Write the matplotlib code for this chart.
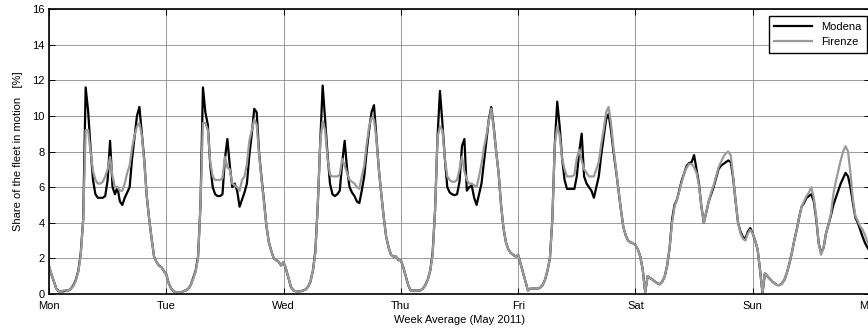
import numpy as np
import matplotlib
matplotlib.use("Agg")
import matplotlib.pyplot as plt

# share of the fleet in motion [%], one value every 30 minutes, Mon 00:00 -> Sun 23:30
modena_mon = [1.55, 1.1, 0.7, 0.3, 0.15, 0.15, 0.15, 0.2, 0.2, 0.3, 0.5, 0.8, 1.3, 2.3, 4.2, 11.6, 10.3, 8.2, 6.4, 5.6,
              5.4, 5.4, 5.4, 5.5, 6.4, 8.6, 6.0, 5.6, 6.0, 5.2, 5.0, 5.4, 5.7, 6.0, 7.6, 8.8, 10.0, 10.5, 9.0, 7.5,
              5.5, 4.2, 3.1, 2.1, 1.8, 1.6, 1.5, 1.3]
firenze_mon = [1.6, 1.1, 0.7, 0.3, 0.15, 0.15, 0.2, 0.2, 0.2, 0.3, 0.45, 0.75, 1.25, 2.2, 4.2, 9.2, 9.2, 8.0, 6.9, 6.4,
               6.2, 6.2, 6.3, 6.6, 7.0, 7.7, 6.6, 6.0, 6.0, 5.8, 5.8, 6.2, 6.8, 7.2, 8.2, 8.9, 9.4, 9.6, 8.9, 7.4,
               5.5, 4.2, 3.1, 2.1, 1.8, 1.6, 1.5, 1.3]
modena_tue = [1.1, 0.6, 0.3, 0.15, 0.1, 0.1, 0.1, 0.15, 0.2, 0.3, 0.5, 0.9, 1.3, 2.1, 5.0, 11.6, 10.2, 9.5, 7.2, 6.0,
              5.6, 5.5, 5.5, 5.6, 7.6, 8.7, 7.2, 6.0, 6.2, 5.8, 4.9, 5.3, 5.7, 6.2, 7.8, 9.0, 10.4, 10.2, 7.9, 6.5,
              5.2, 3.8, 2.9, 2.4, 2.0, 1.9, 1.8, 1.6]
firenze_tue = [1.1, 0.6, 0.3, 0.15, 0.1, 0.1, 0.1, 0.15, 0.2, 0.3, 0.5, 0.85, 1.25, 2.0, 5.0, 9.6, 9.6, 9.2, 7.4, 6.6,
               6.4, 6.4, 6.4, 6.5, 7.7, 7.1, 7.0, 6.2, 6.1, 6.0, 5.8, 6.4, 6.6, 7.3, 8.6, 9.2, 9.8, 9.5, 7.8, 6.4,
               5.1, 3.8, 2.9, 2.4, 2.0, 1.9, 1.8, 1.6]
modena_wed = [1.8, 1.4, 0.9, 0.4, 0.2, 0.15, 0.15, 0.15, 0.2, 0.25, 0.4, 0.7, 1.3, 2.4, 5.0, 8.5, 11.7, 9.8, 7.8, 6.2,
              5.6, 5.5, 5.6, 5.8, 7.4, 8.6, 7.0, 6.0, 5.7, 5.5, 5.2, 5.1, 5.8, 6.6, 8.0, 9.2, 10.2, 10.6, 8.8, 7.0,
              5.6, 4.3, 3.2, 2.6, 2.2, 2.1, 2.1, 1.9]
firenze_wed = [1.8, 1.4, 0.9, 0.4, 0.2, 0.15, 0.15, 0.15, 0.2, 0.25, 0.4, 0.7, 1.3, 2.3, 5.0, 8.5, 9.7, 9.2, 7.6, 6.7,
               6.6, 6.6, 6.6, 6.7, 7.6, 7.2, 6.8, 6.4, 6.3, 6.2, 6.0, 5.9, 6.6, 7.2, 8.4, 9.4, 9.9, 9.8, 8.7, 7.0,
               5.6, 4.3, 3.2, 2.6, 2.2, 2.1, 2.1, 1.9]
modena_thu = [1.9, 1.5, 1.0, 0.5, 0.2, 0.2, 0.2, 0.2, 0.2, 0.3, 0.5, 0.8, 1.3, 2.3, 4.7, 8.8, 11.4, 9.6, 7.6, 6.0,
              5.7, 5.6, 5.55, 5.6, 6.3, 8.3, 8.7, 5.8, 6.0, 6.1, 5.4, 5.0, 5.6, 6.2, 7.4, 8.6, 9.8, 10.5, 9.4, 8.0,
              6.8, 5.0, 3.7, 2.9, 2.5, 2.3, 2.2, 2.1]
firenze_thu = [1.9, 1.5, 1.0, 0.5, 0.2, 0.2, 0.2, 0.2, 0.2, 0.3, 0.5, 0.8, 1.3, 2.2, 4.7, 8.8, 9.4, 9.2, 7.6, 6.6,
               6.4, 6.3, 6.3, 6.4, 7.0, 7.7, 6.9, 6.4, 6.2, 6.2, 6.1, 6.0, 6.6, 7.3, 8.2, 8.9, 9.7, 10.4, 9.3, 8.0,
               6.8, 5.0, 3.7, 2.9, 2.5, 2.3, 2.2, 2.1]
modena_fri = [2.2, 1.7, 1.2, 0.7, 0.2, 0.3, 0.3, 0.3, 0.3, 0.35, 0.5, 0.8, 1.3, 2.0, 4.2, 8.4, 10.8, 9.4, 7.6, 6.4,
              5.9, 5.9, 5.9, 5.9, 6.6, 8.0, 9.0, 6.6, 6.2, 6.0, 5.8, 5.4, 6.0, 6.6, 7.8, 8.8, 9.8, 10.1, 9.2, 8.0,
              7.0, 5.9, 4.8, 3.8, 3.3, 3.0, 2.9, 2.85]
firenze_fri = [2.2, 1.7, 1.2, 0.7, 0.2, 0.3, 0.3, 0.3, 0.3, 0.35, 0.5, 0.8, 1.3, 2.0, 4.2, 8.4, 9.4, 8.9, 7.6, 7.0,
               6.6, 6.6, 6.6, 6.7, 7.6, 8.1, 7.5, 7.0, 6.8, 6.6, 6.6, 6.6, 7.0, 7.4, 8.4, 9.2, 10.2, 10.5, 9.6, 8.2,
               7.1, 5.9, 4.8, 3.8, 3.3, 3.0, 2.9, 2.85]
modena_sat = [2.75, 2.5, 2.1, 1.35, 0.1, 1.0, 0.9, 0.8, 0.7, 0.6, 0.55, 0.7, 1.0, 1.6, 2.6, 4.2, 5.0, 5.3, 5.85, 6.4,
              6.8, 7.2, 7.35, 7.4, 7.8, 7.0, 6.2, 4.9, 4.0, 4.6, 5.2, 5.6, 6.0, 6.5, 7.0, 7.2, 7.3, 7.4, 7.5, 7.4,
              6.5, 5.2, 4.0, 3.5, 3.2, 3.1, 3.5, 3.7]
firenze_sat = [2.75, 2.5, 2.1, 1.35, 0.1, 1.0, 0.9, 0.8, 0.7, 0.6, 0.55, 0.7, 1.0, 1.6, 2.6, 4.0, 4.9, 5.3, 5.8, 6.3,
               6.8, 7.1, 7.3, 7.3, 7.1, 6.8, 6.1, 4.9, 4.0, 4.6, 5.2, 5.7, 6.1, 6.6, 7.1, 7.4, 7.7, 7.9, 8.0, 7.8,
               6.6, 5.2, 4.0, 3.4, 3.1, 3.0, 3.4, 3.6]
modena_sun = [3.4, 3.0, 2.5, 1.35, 0.05, 1.15, 1.0, 0.85, 0.7, 0.6, 0.5, 0.5, 0.6, 0.8, 1.2, 1.7, 2.3, 3.0, 3.6, 4.3,
              4.9, 5.1, 5.4, 5.5, 5.6, 5.2, 4.2, 2.85, 2.3, 2.6, 3.4, 3.9, 4.4, 5.0, 5.4, 5.8, 6.2, 6.5, 6.8, 6.6,
              6.0, 5.1, 4.3, 4.0, 3.6, 3.2, 2.85, 2.6]
firenze_sun = [3.4, 3.0, 2.5, 1.35, 0.05, 1.15, 1.0, 0.85, 0.7, 0.6, 0.5, 0.5, 0.6, 0.8, 1.2, 1.7, 2.3, 3.0, 3.6, 4.3,
               4.9, 5.2, 5.5, 5.7, 6.0, 5.4, 4.3, 2.85, 2.2, 2.6, 3.4, 3.9, 4.5, 5.6, 6.3, 6.9, 7.5, 8.0, 8.3, 8.0,
               6.8, 5.3, 4.4, 4.1, 3.8, 3.6, 3.3, 2.9]
# value at the following Monday 00:00
modena_end = [2.4]
firenze_end = [2.6]

day_labels = ['Mon', 'Tue', 'Wed', 'Thu', 'Fri', 'Sat', 'Sun', 'Mon']

modena = np.array(modena_mon + modena_tue + modena_wed + modena_thu + modena_fri
                  + modena_sat + modena_sun + modena_end)
firenze = np.array(firenze_mon + firenze_tue + firenze_wed + firenze_thu + firenze_fri
                   + firenze_sat + firenze_sun + firenze_end)
hours = np.arange(len(modena)) * 0.5

plt.rcParams['font.family'] = ['Liberation Sans', 'DejaVu Sans']

fig = plt.figure(figsize=(8.68, 3.31), dpi=100)
ax = fig.add_axes([49 / 868, 37 / 331, 821 / 868, 285 / 331])

ax.plot(hours, modena, color='black', lw=1.6, label='Modena')
ax.plot(hours, firenze, color='#9a9a9a', lw=1.6, label='Firenze')

ax.set_xlim(0, 168)
ax.set_ylim(0, 16)
ax.set_xticks(np.arange(0, 169, 24))
ax.set_xticklabels(day_labels)
ax.set_yticks(np.arange(0, 17, 2))
ax.grid(True, color='#8c8c8c', lw=0.6)
ax.set_axisbelow(True)
ax.tick_params(direction='in', top=True, right=True, length=4, width=0.7, labelsize=8)
ax.tick_params(axis='x', pad=5)
ax.tick_params(axis='y', pad=3)
for s in ax.spines.values():
    s.set_linewidth(1.2)

ax.set_xlabel('Week Average (May 2011)', fontsize=8, labelpad=3)
ax.set_ylabel('Share of the fleet in motion   [%]', fontsize=8, labelpad=7)

leg = ax.legend(loc='upper right', bbox_to_anchor=(867 / 868, 1 - 16 / 331), bbox_transform=fig.transFigure,
                fontsize=8, handlelength=3.4, fancybox=False, edgecolor='black', framealpha=1,
                borderaxespad=0, borderpad=0.5, labelspacing=0.5)
leg.get_frame().set_linewidth(1.0)

fig.savefig('out.png', dpi=100)
